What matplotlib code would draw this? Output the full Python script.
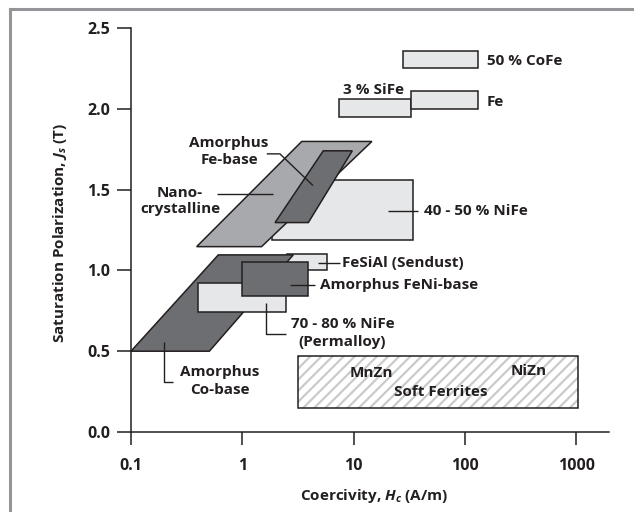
import matplotlib
matplotlib.use("Agg")
import matplotlib.pyplot as plt
from matplotlib.patches import Polygon, Rectangle
from matplotlib.lines import Line2D

plt.rcParams['font.family'] = ['Open Sans', 'DejaVu Sans']
plt.rcParams['font.weight'] = 'bold'
plt.rcParams['mathtext.fontset'] = 'custom'
plt.rcParams['mathtext.it'] = 'Open Sans:italic:bold'
plt.rcParams['mathtext.rm'] = 'Open Sans:bold'
plt.rcParams['mathtext.bf'] = 'Open Sans:bold'
plt.rcParams['hatch.linewidth'] = 1.6
plt.rcParams['hatch.color'] = '#c9cacc'

# ---------------- data ----------------
x_ticks = [0.1, 1, 10, 100, 1000]
x_tick_labels = ["0.1", "1", "10", "100", "1000"]
y_ticks = [0.0, 0.5, 1.0, 1.5, 2.0, 2.5]
y_tick_labels = ["0.0", "0.5", "1.0", "1.5", "2.0", "2.5"]

# rectangular material regions (Hc range in A/m, Js range in T)
rect_names = ["40 - 50 % NiFe", "FeSiAl (Sendust)", "70 - 80 % NiFe",
              "Amorphus FeNi-base", "50 % CoFe", "3 % SiFe", "Fe"]
rect_hc_lo = [1.86, 2.5, 0.40, 1.0, 28.0, 7.4, 33.0]
rect_hc_hi = [34.4, 5.8, 2.45, 3.9, 132.0, 33.0, 132.0]
rect_js_lo = [1.19, 1.0, 0.74, 0.84, 2.25, 1.95, 2.0]
rect_js_hi = [1.56, 1.10, 0.92, 1.05, 2.36, 2.06, 2.11]
rect_shade = ["light", "light", "light", "dark", "light", "light", "light"]
rect_z = [2, 5, 7, 8, 2, 2, 2]

# slanted (parallelogram) regions
para_names = ["Nanocrystalline", "Amorphus Fe-base", "Amorphus Co-base"]
para_js_lo = [1.147, 1.296, 0.50]
para_js_hi = [1.798, 1.740, 1.096]
para_hc_bot_lo = [0.389, 1.97, 0.10]
para_hc_bot_hi = [1.49, 3.92, 0.506]
para_hc_top_lo = [3.42, 5.34, 0.609]
para_hc_top_hi = [14.6, 9.73, 2.87]
para_shade = ["mid", "dark", "dark"]
para_z = [3, 4, 6]

# soft ferrites region
ferrite_hc = [3.15, 1045.0]
ferrite_js = [0.15, 0.47]

colors = {"light": "#e6e7e8", "mid": "#a7a9ac", "dark": "#6d6e71"}
edge = "#231f20"

fig = plt.figure(figsize=(6.34, 5.12), dpi=100)
ax = fig.add_axes([131/634, 1-432/512, (609-131)/634, (432-28)/512])
ax.set_xscale('log')
ax.set_xlim(0.1, 1972)
ax.set_ylim(0, 2.5)

for i in range(len(rect_names)):
    ax.add_patch(Rectangle((rect_hc_lo[i], rect_js_lo[i]),
                           rect_hc_hi[i]-rect_hc_lo[i], rect_js_hi[i]-rect_js_lo[i],
                           facecolor=colors[rect_shade[i]], edgecolor=edge,
                           lw=1.1, zorder=rect_z[i]))

for i in range(len(para_names)):
    pts = [(para_hc_bot_lo[i], para_js_lo[i]), (para_hc_bot_hi[i], para_js_lo[i]),
           (para_hc_top_hi[i], para_js_hi[i]), (para_hc_top_lo[i], para_js_hi[i])]
    ax.add_patch(Polygon(pts, closed=True, facecolor=colors[para_shade[i]],
                         edgecolor=edge, lw=1.1, zorder=para_z[i]))

ax.add_patch(Rectangle((ferrite_hc[0], ferrite_js[0]), ferrite_hc[1]-ferrite_hc[0],
                       ferrite_js[1]-ferrite_js[0], facecolor='white',
                       hatch='///', edgecolor='#c9cacc', lw=0, zorder=2))
ax.add_patch(Rectangle((ferrite_hc[0], ferrite_js[0]), ferrite_hc[1]-ferrite_hc[0],
                       ferrite_js[1]-ferrite_js[0], facecolor='none',
                       edgecolor=edge, lw=1.1, zorder=2.5))

# ---------------- labels ----------------
fs = 11
tfs = 11.5
tk = dict(fontsize=fs, fontweight='bold', color=edge, zorder=10)
lk = dict(color=edge, lw=1.0, zorder=9, solid_capstyle='butt')

ax.text(157, 2.297, "50 % CoFe", ha='left', va='center', **tk)
ax.text(157, 2.045, "Fe", ha='left', va='center', **tk)
ax.text(15.2, 2.118, "3 % SiFe", ha='center', va='center', **tk)

ax.plot([20.4, 37.9], [1.37, 1.37], **lk)
ax.text(42.9, 1.37, "40 - 50 % NiFe", ha='left', va='center', **tk)

ax.plot([1.66, 2.18, 4.32], [1.721, 1.721, 1.525], **lk)
ax.text(0.759, 1.737, "Amorphus\nFe-base", ha='center', va='center', linespacing=1.3, **tk)

ax.plot([0.589, 1.90], [1.472, 1.472], **lk)
ax.text(0.276, 1.429, "Nano-\ncrystalline", ha='center', va='center', linespacing=1.2, **tk)

ax.plot([0.199, 0.199, 0.240], [0.559, 0.308, 0.308], **lk)
ax.text(0.631, 0.315, "Amorphus\nCo-base", ha='center', va='center', linespacing=1.3, **tk)

ax.plot([1.62, 1.62, 2.45], [0.797, 0.605, 0.605], **lk)
ax.text(7.95, 0.614, "70 - 80 % NiFe\n(Permalloy)", ha='center', va='center', linespacing=1.35, **tk)

ax.plot([2.68, 4.50], [0.910, 0.910], **lk)
ax.text(4.99, 0.910, "Amorphus FeNi-base", ha='left', va='center', **tk)

ax.plot([4.82, 7.55], [1.045, 1.045], **lk)
ax.text(7.82, 1.045, "FeSiAl (Sendust)", ha='left', va='center', **tk)

ax.text(14.5, 0.367, "MnZn", ha='center', va='center', **tk)
ax.text(377, 0.380, "NiZn", ha='center', va='center', **tk)
ax.text(60.4, 0.250, "Soft Ferrites", ha='center', va='center', **tk)

# ---------------- axes styling ----------------
for s in ['top', 'right']:
    ax.spines[s].set_visible(False)
for s in ['left', 'bottom']:
    ax.spines[s].set_color(edge)
    ax.spines[s].set_linewidth(1.1)

ax.set_xticks(x_ticks)
ax.set_xticklabels(x_tick_labels)
ax.xaxis.set_minor_locator(matplotlib.ticker.NullLocator())
ax.set_yticks(y_ticks)
ax.set_yticklabels(y_tick_labels)
ax.tick_params(axis='x', length=9.5, width=1.1, color=edge, pad=9.5,
               labelsize=tfs, labelcolor=edge)
ax.tick_params(axis='y', length=10, width=1.1, color=edge, pad=5,
               labelsize=tfs, labelcolor=edge)
for lab in ax.get_xticklabels() + ax.get_yticklabels():
    lab.set_fontweight('bold')

ax.set_ylabel(r"Saturation Polarization, $J_s$ (T)", fontsize=fs, fontweight='bold', color=edge)
ax.set_xlabel(r"Coercivity, $H_c$ (A/m)", fontsize=fs, fontweight='bold', color=edge)
ax.yaxis.set_label_coords((69-131)/478, (432-233)/404)
ax.xaxis.set_label_coords((374-131)/478, (432-487)/404)

# outer gray frame
fc = '#939598'
fig.add_artist(Line2D([9.5/634, 9.5/634], [0, 1-8.5/512], transform=fig.transFigure,
                      color=fc, lw=2.2, solid_capstyle='projecting'))
fig.add_artist(Line2D([9.5/634, 1], [1-8.5/512, 1-8.5/512], transform=fig.transFigure,
                      color=fc, lw=2.2, solid_capstyle='projecting'))

fig.savefig("out.png", dpi=100)
